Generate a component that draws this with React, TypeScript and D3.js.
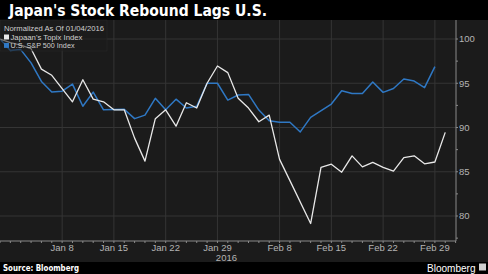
import React from "react";
import * as d3 from "d3";

const W = 488;
const H = 274;

const title = "Japan's Stock Rebound Lags U.S.";
const subtitle = "Normalized As Of 01/04/2016";
const seriesNames = ["Japaan's Topix Index", "U.S. S&P 500 Index"];
const legendWidths = [72, 64];
const source = "Source: Bloomberg";
const brand = "Bloomberg";
const yearLabel = "2016";

// trading-day axis (weekdays) from Dec 31, 2015 to Mar 3, 2016
const firstDay = new Date(2015, 11, 31);
const lastDay = new Date(2016, 2, 4);
const tickLabels = ["Jan 8", "Jan 15", "Jan 22", "Jan 29", "Feb 8", "Feb 15", "Feb 22", "Feb 29"];
const yTicks = [80, 85, 90, 95, 100];
const yMinorStep = 2.5;

// values per trading day (null = market holiday)
const topix: (number | null)[] = [
  100, 99.6, 99.3, 98.9, 96.6, 95.9, null, 92.9, 95.4, 93.2,
  92.9, 92.0, 92.0, 88.8, 86.2, 91.0, 92.0, 90.15, 92.8, 92.2,
  95.0, 96.95, 96.2, 93.3, 92.2, 90.65, 91.4, 86.4, 84.0, null,
  79.15, 85.5, 85.85, 84.95, 86.8, 85.55, 86.05, 85.5, 85.07, 86.6,
  86.8, 85.9, 86.1, 89.45,
];
const spx: (number | null)[] = [
  100, 98.7, 98.8, 97.3, 95.2, 94.0, 94.1, 94.9, 92.4, 94.0,
  92.0, null, 92.05, 91.0, 91.4, 93.3, 92.0, 93.2, 92.2, 92.4,
  95.0, 95.0, 93.1, 93.67, 93.74, 91.97, 90.76, 90.6, 90.6, 89.5,
  91.14, null, 92.65, 94.15, 93.85, 93.85, 95.14, 93.97, 94.4, 95.48,
  95.25, 94.5, 96.87,
];

const COLORS = ["#e8e8e8", "#2f78c4"];

export default function App() {
  const fmt = d3.timeFormat("%b %-d");
  const days = d3.timeDay
    .range(firstDay, lastDay)
    .filter((d) => d.getDay() !== 0 && d.getDay() !== 6)
    .map((d) => fmt(d));

  const plotTop = 20;
  const plotBottom = 262;
  const axisY = 241;
  const axisX = 456;

  const x = d3.scaleLinear().domain([0, 44]).range([0, 455.6]);
  const y = d3.scaleLinear().domain([80, 100]).range([216, 39]);

  const tickIdx = tickLabels.map((t) => days.indexOf(t));
  const minorY = d3.range(77.5, 102.01, yMinorStep).filter((v) => y(v) <= axisY && y(v) >= plotTop + 2);

  const line = d3
    .line<[number, number]>()
    .x((d) => x(d[0]))
    .y((d) => y(d[1]));

  const pts = (arr: (number | null)[]) =>
    arr.map((v, i) => [i, v] as [number, number | null]).filter((p) => p[1] != null) as [number, number][];

  const font = "'Liberation Sans', Arial, sans-serif";
  const legRow = 8.4;

  return (
    <div style={{ position: "fixed", left: 0, top: 0, width: W, height: H }}>
      <svg width={W} height={H} style={{ display: "block", fontFamily: font }}>
        <rect x={0} y={0} width={W} height={H} fill="#000" />
        <rect x={0} y={plotTop} width={W} height={plotBottom - plotTop} fill="#1b1b1b" />

        {/* title */}
        <text x={9} y={15.5} fill="#fff" fontSize={16} fontWeight="bold" fontFamily="'DejaVu Sans', sans-serif" textLength={258} lengthAdjust="spacingAndGlyphs">
          {title}
        </text>

        {/* grid */}
        {yTicks.map((t) => (
          <line key={"gy" + t} x1={0} x2={axisX} y1={y(t)} y2={y(t)} stroke="#353535" strokeWidth={1} />
        ))}
        {tickIdx.map((i, k) => (
          <line key={"gx" + k} x1={x(i)} x2={x(i)} y1={plotTop} y2={axisY} stroke="#353535" strokeWidth={1} />
        ))}

        {/* x axis */}
        <line x1={0} x2={axisX} y1={axisY} y2={axisY} stroke="#8a8a8a" strokeWidth={1} />
        {days.map((d, i) =>
          x(i) <= axisX ? (
            <line key={"xt" + i} x1={x(i)} x2={x(i)} y1={axisY} y2={axisY + 2} stroke="#8a8a8a" strokeWidth={1} />
          ) : null
        )}
        {tickIdx.map((i, k) => (
          <text key={"xl" + k} x={x(i)} y={251} fill="#b4b4b4" fontSize={9.5} textAnchor="middle">
            {tickLabels[k]}
          </text>
        ))}
        <text x={237} y={260.5} fill="#b4b4b4" fontSize={9.5} textAnchor="end">
          {yearLabel}
        </text>

        {/* y axis */}
        <line x1={axisX} x2={axisX} y1={plotTop} y2={axisY} stroke="#8a8a8a" strokeWidth={1} />
        {minorY.map((v) => (
          <line key={"ym" + v} x1={axisX} x2={axisX + 2} y1={y(v)} y2={y(v)} stroke="#8a8a8a" strokeWidth={1} />
        ))}
        {yTicks.map((t) => (
          <text key={"yl" + t} x={459} y={y(t) + 3.4} fill="#b4b4b4" fontSize={9.5}>
            {t}
          </text>
        ))}

        {/* lines */}
        <path d={line(pts(spx)) || ""} fill="none" stroke={COLORS[1]} strokeWidth={1.5} strokeLinejoin="round" />
        <path d={line(pts(topix)) || ""} fill="none" stroke={COLORS[0]} strokeWidth={1.3} strokeLinejoin="round" />

        {/* legend */}
        <rect x={0} y={plotTop} width={107} height={31} fill="#1b1b1b" fillOpacity={0.55} stroke="#2a2a2a" strokeWidth={0.5} />
        <text x={4} y={31.3} fill="#d0d0d0" fontSize={7.2} textLength={100} lengthAdjust="spacingAndGlyphs">
          {subtitle}
        </text>
        {seriesNames.map((n, k) => (
          <g key={"lg" + k}>
            <rect x={4} y={34.5 + k * legRow} width={5} height={5} fill={COLORS[k]} />
            <text x={10.5} y={39.7 + k * legRow} fill="#d0d0d0" fontSize={7.2} textLength={legendWidths[k]} lengthAdjust="spacingAndGlyphs">
              {n}
            </text>
          </g>
        ))}

        {/* footer */}
        <text x={3} y={271} fill="#fff" fontSize={8} fontWeight="bold" fontFamily="'DejaVu Sans', sans-serif" textLength={76} lengthAdjust="spacingAndGlyphs">
          {source}
        </text>
        <text x={475.5} y={272} fill="#fff" fontSize={11} textAnchor="end" textLength={48.5} lengthAdjust="spacingAndGlyphs">
          {brand}
        </text>
        <rect x={479} y={263.5} width={7} height={7} fill="#d0d0d0" />
      </svg>
    </div>
  );
}
